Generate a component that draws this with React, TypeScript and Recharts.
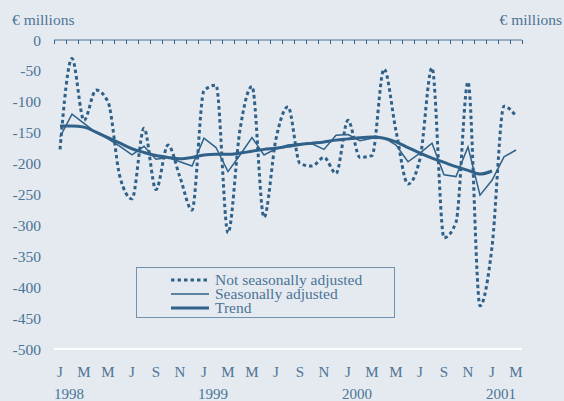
import React from 'react';
import { LineChart, Line, XAxis, YAxis, CartesianGrid, ReferenceLine } from 'recharts';

// Jan 1998 .. Mar 2001, monthly, € millions
const monthInitials = ['J', 'F', 'M', 'A', 'M', 'J', 'J', 'A', 'S', 'O', 'N', 'D'];
const years = ['1998', '1999', '2000', '2001'];

const notSeasonallyAdjusted = [
  -177, -30, -130, -81, -100, -222, -257, -143, -242, -170, -222, -275,
  -82, -73, -312, -145, -75, -287, -160, -108, -200, -204, -190, -216,
  -130, -190, -187, -47, -147, -233, -192, -45, -320, -295, -68, -430,
  -335, -107, -123,
];
const seasonallyAdjusted = [
  -157, -120, -135, -150, -160, -172, -186, -172, -193, -190, -197, -204,
  -159, -174, -213, -186, -158, -186, -176, -170, -168, -168, -177, -154,
  -153, -163, -159, -158, -170, -197, -183, -167, -218, -221, -173, -251,
  -227, -189, -178,
];
const trend = [
  -139, -139, -141, -149, -158, -167, -176, -182, -187, -190, -192, -190,
  -186, -185, -185, -183, -180, -177, -175, -172, -169, -167, -165, -162,
  -160, -158, -157, -159, -165, -174, -183, -191, -198, -205, -211, -217,
  -212,
];
const yTicks = [0, -50, -100, -150, -200, -250, -300, -350, -400, -450, -500];

const INK = '#2f6189';
const TEXT = '#4b7496';
const BG = '#e5eaf0';
const FONT = '"Liberation Serif", "Times New Roman", serif';
const PLOT_TOP = 40;

const data = notSeasonallyAdjusted.map((v, i) => ({
  idx: i,
  month: monthInitials[i % 12],
  year: years[Math.floor(i / 12)],
  nsa: v,
  sa: seasonallyAdjusted[i],
  trend: i < trend.length ? trend[i] : null,
}));

const xTicks = data.map((d) => d.idx);

const crisp = (v: number) => Math.round(v) + 0.5;

// every month: a small mark on the zero line at the band edge; label every other month
const MonthTick = (props: any) => {
  const { x, payload, width } = props;
  const step = (width || 468) / data.length;
  const d = data[payload.value];
  if (!d) return <g />;
  const left = x - step / 2;
  const right = x + step / 2;
  return (
    <g>
      <line x1={crisp(left)} x2={crisp(left)} y1={PLOT_TOP} y2={PLOT_TOP + 4} stroke={INK} strokeWidth={1} />
      {d.idx === data.length - 1 && (
        <line x1={crisp(right)} x2={crisp(right)} y1={PLOT_TOP} y2={PLOT_TOP + 4} stroke={INK} strokeWidth={1} />
      )}
      {d.idx % 2 === 0 && (
        <text x={x} y={377} textAnchor="middle" fill={TEXT} fontSize={15} fontFamily={FONT}>
          {d.month}
        </text>
      )}
      {d.idx % 12 === 0 && (
        <text x={left} y={399} textAnchor="start" fill={TEXT} fontSize={15} fontFamily={FONT}>
          {d.year}
        </text>
      )}
    </g>
  );
};

const LegendRow = ({ label, dash, width }: { label: string; dash?: string; width: number }) => (
  <div style={{ display: 'flex', alignItems: 'center', height: 14 }}>
    <svg width={46} height={14} style={{ marginLeft: 32 }}>
      <line x1={2} y1={7} x2={40} y2={7} stroke={INK} strokeWidth={width} strokeDasharray={dash} />
    </svg>
    <span style={{ lineHeight: '14px' }}>{label}</span>
  </div>
);

export default function App() {
  return (
    <div
      style={{
        position: 'absolute',
        left: 0,
        top: 0,
        width: 564,
        height: 401,
        background: BG,
        fontFamily: FONT,
        color: TEXT,
        overflow: 'hidden',
      }}
    >
      <div style={{ position: 'absolute', left: 12, top: 12, fontSize: 15.5, lineHeight: '16px' }}>€ millions</div>
      <div style={{ position: 'absolute', right: 2, top: 12, fontSize: 15.5, lineHeight: '16px' }}>€ millions</div>
      <LineChart width={564} height={401} data={data} margin={{ top: PLOT_TOP, right: 0, bottom: 0, left: 0 }}>
        <CartesianGrid horizontal vertical={false} stroke="#ffffff" strokeWidth={2} />
        <ReferenceLine xAxisId="bottom" yAxisId="left" y={0} stroke={INK} strokeWidth={1} />
        <XAxis
          xAxisId="bottom"
          dataKey="idx"
          type="number"
          domain={[-0.5, 38.5]}
          ticks={xTicks}
          interval={0}
          height={52}
          axisLine={false}
          tickLine={false}
          tick={<MonthTick />}
        />
        <YAxis
          yAxisId="left"
          domain={[-500, 0]}
          ticks={yTicks}
          interval={0}
          width={54}
          axisLine={false}
          tickLine={false}
          tickSize={0}
          tickMargin={13}
          tick={{ fill: TEXT, fontSize: 15.5, fontFamily: FONT }}
        />
        <YAxis
          yAxisId="right"
          orientation="right"
          domain={[-500, 0]}
          ticks={yTicks}
          interval={0}
          width={42}
          axisLine={false}
          tickLine={false}
          tickSize={0}
          tickMargin={40}
          tick={{ fill: TEXT, fontSize: 15.5, fontFamily: FONT, textAnchor: 'end' }}
        />
        <Line
          xAxisId="bottom"
          yAxisId="left"
          dataKey="nsa"
          type="monotone"
          stroke={INK}
          strokeWidth={3}
          strokeDasharray="3.5 3"
          dot={false}
          activeDot={false}
          isAnimationActive={false}
        />
        <Line
          xAxisId="bottom"
          yAxisId="left"
          dataKey="sa"
          type="linear"
          stroke={INK}
          strokeWidth={1.5}
          dot={false}
          activeDot={false}
          isAnimationActive={false}
        />
        <Line
          xAxisId="bottom"
          yAxisId="left"
          dataKey="trend"
          type="monotone"
          stroke={INK}
          strokeWidth={3}
          dot={false}
          activeDot={false}
          connectNulls={false}
          isAnimationActive={false}
        />
      </LineChart>
      <div
        style={{
          position: 'absolute',
          left: 136,
          top: 267,
          width: 259,
          height: 51,
          border: '1.5px solid #7191b1',
          boxSizing: 'border-box',
          fontSize: 15.5,
          paddingTop: 5,
        }}
      >
        <LegendRow label="Not seasonally adjusted" dash="3.5 3" width={3} />
        <LegendRow label="Seasonally adjusted" width={1.5} />
        <LegendRow label="Trend" width={3} />
      </div>
    </div>
  );
}
